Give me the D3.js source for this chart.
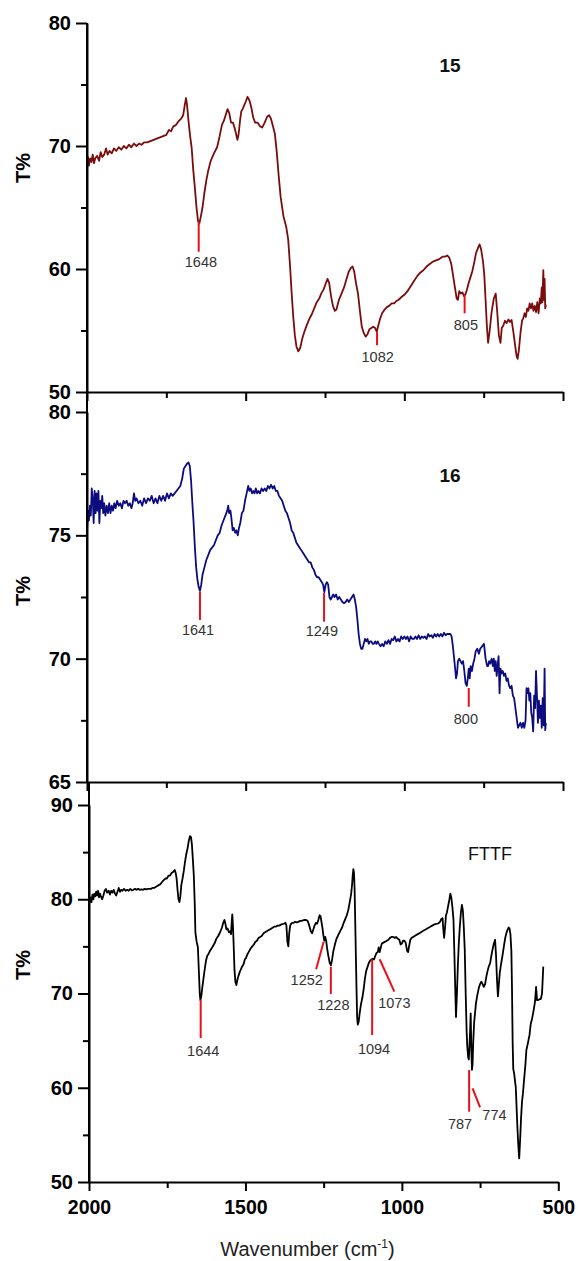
<!DOCTYPE html>
<html lang="en">
<head>
<meta charset="utf-8">
<title>FTIR spectra: 15, 16, FTTF</title>
<script src="https://d3js.org/d3.v7.min.js"></script>
<style>
  body { margin: 0; background: #fff; }
  svg text { font-family: "Liberation Sans", Arial, sans-serif; }
</style>
</head>
<body>
<script>
// ---- spectra, [wavenumber, T%] ----
var spec15 = [[2000,68.2],[1997,69.1],[1994,68.4],[1990,69.0],[1986,68.7],[1982,69.3],[1978,68.6],[1974,69.0],[1968,69.2],[1962,68.8],[1957,69.5],[1952,69.1],[1946,69.3],[1940,69.8],[1935,69.3],[1929,69.6],[1922,69.4],[1915,69.8],[1908,69.6],[1900,69.9],[1892,69.7],[1884,70.0],[1876,69.8],[1868,70.1],[1860,69.9],[1852,70.2],[1844,70.0],[1836,70.2],[1828,70.1],[1820,70.3],[1810,70.3],[1800,70.4],[1790,70.5],[1780,70.6],[1770,70.7],[1760,70.8],[1750,70.9],[1742,71.3],[1735,71.2],[1728,71.6],[1720,71.7],[1712,72.0],[1704,72.2],[1697,72.5],[1692,73.3],[1688,73.9],[1685,73.4],[1680,72.0],[1675,70.8],[1670,69.8],[1665,68.0],[1660,66.6],[1655,65.0],[1650,63.9],[1646,63.7],[1641,64.3],[1636,65.0],[1630,66.2],[1624,67.2],[1618,68.0],[1610,68.8],[1600,69.4],[1590,69.9],[1582,70.8],[1575,71.7],[1568,72.1],[1562,72.6],[1557,73.0],[1552,72.7],[1546,71.9],[1540,71.9],[1534,71.4],[1526,70.5],[1522,71.0],[1518,72.0],[1514,72.8],[1508,73.1],[1500,73.6],[1494,74.0],[1488,73.7],[1482,73.1],[1476,72.3],[1470,71.9],[1462,71.9],[1455,71.6],[1448,71.5],[1440,71.9],[1432,72.4],[1426,72.5],[1420,72.2],[1414,71.6],[1408,71.0],[1402,69.5],[1396,67.6],[1390,65.9],[1381,64.3],[1372,63.4],[1366,62.4],[1360,60.2],[1355,58.0],[1350,56.1],[1345,54.6],[1340,53.7],[1334,53.3],[1328,53.6],[1322,54.3],[1315,54.9],[1308,55.4],[1300,55.9],[1292,56.3],[1284,56.8],[1276,57.3],[1268,57.6],[1262,58.0],[1255,58.3],[1248,58.8],[1242,59.2],[1237,58.9],[1231,57.8],[1225,57.0],[1219,56.6],[1214,56.7],[1206,57.5],[1198,58.0],[1190,58.5],[1182,59.2],[1175,59.8],[1168,60.1],[1163,60.2],[1158,59.8],[1152,58.8],[1146,58.0],[1140,56.6],[1134,55.3],[1128,54.8],[1122,54.5],[1116,54.7],[1110,55.1],[1104,55.2],[1098,55.3],[1092,55.2],[1087,54.9],[1082,55.4],[1077,55.9],[1070,56.4],[1062,56.7],[1055,56.9],[1048,57.0],[1040,57.2],[1032,57.2],[1025,57.4],[1018,57.5],[1010,57.7],[1000,57.9],[990,58.2],[980,58.6],[970,59.0],[960,59.4],[950,59.7],[940,59.9],[930,60.2],[920,60.4],[910,60.6],[900,60.7],[890,60.8],[880,61.0],[872,61.0],[865,61.1],[858,60.9],[852,60.4],[846,59.4],[840,58.4],[835,57.6],[831,57.5],[827,58.2],[822,58.0],[817,58.1],[812,57.8],[808,57.9],[803,58.3],[798,58.8],[792,59.3],[786,59.8],[780,60.5],[774,61.3],[768,61.7],[763,62.0],[758,61.6],[752,60.6],[748,59.5],[744,57.5],[740,55.4],[736,54.0],[731,55.0],[725,56.5],[718,57.6],[712,58.0],[707,56.4],[702,54.6],[697,54.0],[693,55.2],[688,55.4],[683,55.8],[678,55.6],[672,55.9],[667,55.7],[662,55.85],[656,54.8],[650,53.6],[646,52.9],[643,52.7],[639,53.4],[634,54.8],[629,55.8],[625,56.0],[621,56.4],[617,56.1],[613,56.8],[609,56.6],[605,57.2],[601,56.8],[597,57.2],[593,56.6],[589,57.0],[585,56.5],[581,57.3],[577,56.4],[573,57.6],[570,57.2],[567,58.5],[565,57.3],[562,59.9],[560,57.5],[558,59.2],[556,56.8],[554,57.1]];

var spec16 = [[2000,75.2],[1997,76.0],[1994,75.6],[1991,76.2],[1988,75.8],[1985,76.9],[1982,76.5],[1979,75.5],[1976,76.8],[1973,75.9],[1970,76.7],[1967,76.0],[1964,76.8],[1961,75.5],[1958,76.4],[1955,76.1],[1952,76.6],[1949,75.9],[1946,76.3],[1942,75.8],[1938,76.2],[1934,75.9],[1930,76.3],[1926,75.9],[1922,76.2],[1918,76.0],[1914,76.3],[1910,76.1],[1905,76.4],[1900,76.2],[1895,76.3],[1890,76.1],[1885,76.4],[1880,76.3],[1875,76.4],[1870,76.2],[1865,76.3],[1860,76.1],[1856,76.3],[1852,76.7],[1848,76.4],[1844,76.5],[1838,76.3],[1832,76.4],[1826,76.2],[1820,76.5],[1814,76.3],[1808,76.5],[1802,76.4],[1796,76.6],[1790,76.3],[1784,76.5],[1778,76.3],[1772,76.6],[1766,76.4],[1760,76.6],[1754,76.4],[1748,76.7],[1742,76.5],[1736,76.7],[1730,76.6],[1724,76.7],[1718,76.8],[1712,76.9],[1706,77.0],[1700,77.3],[1695,77.7],[1690,77.8],[1685,77.9],[1680,77.95],[1676,77.8],[1672,77.2],[1668,76.3],[1664,75.5],[1660,74.5],[1656,73.7],[1652,73.2],[1648,72.9],[1644,72.75],[1640,73.0],[1636,73.4],[1630,73.7],[1624,74.0],[1618,74.2],[1612,74.4],[1606,74.5],[1600,74.6],[1594,74.8],[1588,75.0],[1582,75.1],[1576,75.4],[1570,75.6],[1564,75.8],[1558,76.0],[1555,76.2],[1552,75.9],[1548,76.0],[1545,75.7],[1541,75.2],[1537,75.3],[1533,75.1],[1529,75.2],[1525,75.0],[1521,75.3],[1517,75.5],[1512,75.9],[1507,76.0],[1502,76.4],[1497,76.7],[1492,77.0],[1488,76.8],[1484,76.9],[1480,76.7],[1476,76.8],[1472,76.7],[1468,76.9],[1464,76.7],[1460,76.8],[1455,76.7],[1450,76.9],[1445,76.8],[1440,76.9],[1435,76.8],[1430,77.0],[1425,76.9],[1420,77.05],[1415,76.9],[1410,77.0],[1405,76.8],[1400,76.8],[1395,76.6],[1390,76.5],[1385,76.4],[1380,76.2],[1375,76.0],[1370,75.9],[1365,75.7],[1360,75.5],[1355,75.2],[1350,75.1],[1345,74.9],[1340,74.7],[1335,74.6],[1330,74.5],[1325,74.4],[1320,74.3],[1315,74.2],[1310,74.1],[1305,74.0],[1300,73.9],[1295,73.9],[1290,73.7],[1285,73.6],[1280,73.4],[1275,73.3],[1270,73.3],[1265,73.2],[1260,73.1],[1256,73.0],[1252,72.7],[1248,73.0],[1244,73.1],[1240,73.0],[1236,72.5],[1232,72.4],[1228,72.5],[1224,72.6],[1220,72.5],[1215,72.6],[1210,72.4],[1205,72.5],[1200,72.4],[1195,72.3],[1190,72.25],[1185,72.3],[1180,72.4],[1175,72.3],[1170,72.4],[1165,72.5],[1160,72.6],[1156,72.4],[1152,72.1],[1148,71.6],[1144,71.0],[1140,70.6],[1136,70.4],[1132,70.4],[1128,70.6],[1124,70.8],[1120,70.7],[1116,70.8],[1112,70.6],[1108,70.7],[1104,70.7],[1100,70.6],[1096,70.6],[1092,70.7],[1088,70.6],[1084,70.7],[1080,70.6],[1075,70.5],[1070,70.6],[1065,70.5],[1060,70.7],[1055,70.6],[1050,70.75],[1045,70.6],[1040,70.8],[1035,70.75],[1030,70.9],[1025,70.7],[1020,70.8],[1015,70.7],[1010,70.9],[1005,70.8],[1000,70.9],[995,70.8],[990,70.9],[985,70.7],[980,70.9],[975,70.8],[970,70.8],[965,70.9],[960,70.8],[955,70.95],[950,70.8],[945,70.9],[940,70.85],[935,70.9],[930,70.8],[925,71.0],[920,70.9],[915,70.95],[910,70.85],[905,71.0],[900,70.9],[895,71.0],[890,70.9],[885,71.0],[880,70.9],[875,71.05],[870,70.95],[865,71.0],[860,71.0],[855,71.0],[851,70.9],[847,70.5],[843,70.0],[840,69.6],[837,69.2],[834,69.4],[831,69.9],[827,70.0],[823,69.9],[819,69.8],[815,69.9],[811,69.5],[807,69.0],[803,68.9],[800,69.2],[797,69.6],[794,69.2],[791,69.7],[787,69.5],[783,69.8],[779,70.0],[775,70.3],[770,70.4],[765,70.2],[761,70.4],[755,70.5],[749,70.6],[744,70.0],[739,69.7],[736,69.7],[733,69.9],[729,69.8],[725,70.0],[721,69.7],[718,70.0],[715,69.5],[712,69.9],[709,69.3],[706,69.7],[703,70.1],[700,68.6],[697,69.6],[694,69.4],[690,69.5],[686,69.3],[682,69.4],[678,69.1],[674,69.2],[670,68.9],[666,68.8],[662,68.9],[658,68.5],[654,68.4],[650,68.0],[646,67.6],[642,67.2],[638,67.3],[634,67.4],[630,67.2],[626,67.4],[622,67.2],[618,67.5],[615,68.8],[612,68.6],[609,68.8],[606,68.3],[603,68.6],[600,67.8],[597,67.6],[594,67.05],[591,68.5],[588,68.0],[585,69.5],[582,68.5],[579,67.4],[576,68.3],[573,67.6],[570,68.1],[567,67.2],[564,68.4],[561,67.3],[558,69.6],[556,67.1],[554,67.4]];

var specFTTF = [[1998,79.6],[1995,80.2],[1992,79.7],[1989,80.5],[1986,80.0],[1983,80.6],[1980,80.3],[1977,80.8],[1974,80.4],[1971,80.9],[1968,80.2],[1965,80.6],[1962,80.3],[1958,80.0],[1954,80.4],[1950,80.9],[1946,81.1],[1942,80.7],[1937,80.9],[1933,80.5],[1929,80.9],[1925,80.7],[1921,81.0],[1917,80.6],[1913,80.4],[1909,80.8],[1905,81.2],[1901,80.8],[1897,81.0],[1893,80.9],[1888,81.1],[1883,80.9],[1878,81.0],[1873,80.9],[1868,81.1],[1863,80.95],[1858,81.0],[1853,81.1],[1848,81.0],[1843,81.1],[1838,81.0],[1832,81.05],[1827,81.0],[1822,81.1],[1817,81.05],[1812,81.1],[1807,81.1],[1802,81.1],[1797,81.2],[1792,81.2],[1787,81.3],[1782,81.4],[1777,81.5],[1772,81.6],[1767,81.8],[1762,82.0],[1756,82.2],[1751,82.2],[1746,82.5],[1741,82.5],[1736,82.8],[1731,82.9],[1726,83.1],[1723,82.8],[1720,82.2],[1717,81.0],[1714,80.0],[1711,79.7],[1708,80.3],[1705,81.5],[1701,82.2],[1697,83.0],[1693,84.0],[1689,84.8],[1685,85.4],[1681,86.2],[1677,86.7],[1674,86.6],[1671,85.8],[1668,84.2],[1665,82.5],[1662,79.5],[1660,76.5],[1656,75.5],[1652,74.9],[1649,72.5],[1646,70.0],[1644,69.3],[1641,69.7],[1638,70.6],[1634,71.6],[1630,72.6],[1626,73.5],[1622,74.0],[1618,74.2],[1612,74.6],[1606,74.9],[1599,75.3],[1593,75.8],[1587,76.1],[1581,76.5],[1575,77.0],[1571,77.5],[1567,77.8],[1564,77.4],[1561,76.8],[1557,76.9],[1553,76.5],[1549,76.6],[1546,76.3],[1544,77.5],[1542,78.4],[1540,77.2],[1538,75.5],[1535,72.5],[1532,71.2],[1529,70.9],[1526,71.4],[1522,71.9],[1518,72.3],[1514,72.6],[1510,72.9],[1506,73.1],[1502,73.6],[1498,73.8],[1493,74.2],[1488,74.5],[1483,74.8],[1478,75.0],[1473,75.2],[1468,75.5],[1463,75.6],[1458,75.9],[1453,76.0],[1448,76.1],[1442,76.4],[1437,76.5],[1432,76.6],[1427,76.7],[1422,76.8],[1417,76.9],[1412,77.0],[1407,77.1],[1402,77.1],[1397,77.2],[1392,77.2],[1387,77.3],[1382,77.35],[1377,77.4],[1372,77.5],[1369,77.2],[1366,75.5],[1363,75.0],[1360,76.4],[1357,77.2],[1354,77.4],[1350,77.5],[1346,77.5],[1341,77.6],[1336,77.55],[1331,77.6],[1326,77.7],[1321,77.7],[1316,77.75],[1311,77.8],[1306,77.8],[1301,77.7],[1296,77.2],[1291,76.6],[1287,76.4],[1283,76.8],[1279,77.2],[1275,77.5],[1271,77.4],[1267,77.8],[1263,78.3],[1260,78.2],[1257,77.6],[1254,77.0],[1251,76.2],[1248,75.6],[1245,76.0],[1242,75.6],[1239,74.8],[1235,74.0],[1231,73.3],[1227,73.0],[1223,73.6],[1219,74.5],[1214,75.2],[1209,75.8],[1202,76.3],[1196,76.7],[1191,77.0],[1186,77.5],[1181,77.9],[1176,78.3],[1171,78.9],[1166,79.8],[1162,80.6],[1159,81.6],[1157,82.6],[1155,83.2],[1153,82.8],[1151,81.0],[1149,77.5],[1147,74.0],[1145,70.5],[1143,67.5],[1141,66.7],[1138,67.0],[1135,67.9],[1131,68.8],[1126,69.6],[1122,70.5],[1118,71.6],[1114,72.4],[1109,72.9],[1105,73.3],[1101,73.5],[1097,73.6],[1093,73.7],[1089,73.6],[1085,74.0],[1081,74.3],[1077,74.4],[1074,74.9],[1071,74.4],[1068,74.8],[1064,75.3],[1059,75.4],[1053,75.5],[1048,75.6],[1043,75.7],[1038,75.9],[1033,76.0],[1028,76.0],[1023,75.9],[1018,76.0],[1013,75.8],[1008,75.7],[1004,75.2],[1000,75.3],[996,75.6],[992,75.6],[988,75.4],[983,74.5],[980,74.4],[977,75.0],[973,75.7],[969,75.9],[964,76.0],[959,76.1],[954,76.2],[949,76.3],[944,76.4],[939,76.5],[934,76.6],[929,76.7],[924,76.8],[919,76.9],[913,77.0],[908,77.1],[903,77.2],[898,77.3],[893,77.35],[888,77.4],[883,77.45],[878,77.6],[874,77.9],[870,78.0],[868,77.0],[865,75.9],[862,77.0],[859,78.3],[856,78.6],[852,79.3],[848,80.0],[845,80.6],[842,80.2],[838,79.0],[835,77.8],[832,74.0],[829,70.0],[827,67.5],[824,70.0],[821,73.0],[818,75.3],[815,77.0],[811,78.7],[808,79.4],[805,78.8],[802,77.0],[799,74.6],[796,70.0],[793,66.0],[791,64.4],[788,63.2],[786,63.0],[784,64.5],[782,66.0],[780,67.9],[778,64.0],[776,61.9],[774,62.5],[772,64.8],[769,66.9],[766,68.0],[763,69.0],[759,69.8],[754,70.6],[750,71.0],[746,71.25],[742,71.0],[738,70.7],[734,71.0],[730,71.8],[726,72.4],[722,72.9],[718,73.2],[714,74.0],[710,74.7],[706,75.3],[702,75.7],[699,74.0],[696,71.5],[693,69.7],[690,71.0],[687,72.2],[684,72.9],[681,73.5],[677,74.3],[673,75.2],[669,76.0],[666,76.4],[663,76.7],[659,77.0],[656,76.9],[653,76.3],[650,74.5],[648,70.5],[646,65.0],[644,62.0],[641,61.5],[638,60.6],[636,60.1],[634,58.5],[631,56.0],[628,54.0],[625,52.5],[622,54.5],[619,56.8],[616,58.5],[613,59.4],[609,61.0],[605,62.5],[602,64.0],[598,64.6],[592,65.6],[588,66.8],[584,67.3],[580,68.0],[576,68.8],[574,69.3],[571,70.7],[568,69.3],[564,69.3],[560,69.4],[556,69.4],[552,70.0],[548,72.85]];

// ---- peak labels: red marker line from (x1,y1) to (x2,y2), text at (lx,ly) ----
var peaks15 = [
  {label: "1648", x1: 1648, y1: 63.85, x2: 1648, y2: 61.4, lx: 1641, ly: 60.16},
  {label: "1082", x1: 1086, y1: 54.9, x2: 1086, y2: 53.8, lx: 1084, ly: 52.44},
  {label: "805", x1: 810, y1: 57.9, x2: 810, y2: 56.4, lx: 806, ly: 55.04}
];
var peaks16 = [
  {label: "1641", x1: 1644, y1: 72.71, x2: 1644, y2: 71.57, lx: 1650, ly: 70.96},
  {label: "1249", x1: 1253, y1: 72.66, x2: 1253, y2: 71.5, lx: 1260, ly: 70.92},
  {label: "800", x1: 797, y1: 68.81, x2: 797, y2: 68.05, lx: 806, ly: 67.35}
];
var peaksFTTF = [
  {label: "1644", x1: 1643, y1: 69.31, x2: 1643, y2: 65.28, lx: 1635, ly: 63.37},
  {label: "1252", x1: 1250, y1: 75.5, x2: 1274, y2: 72.57, lx: 1304, ly: 70.9},
  {label: "1228", x1: 1227, y1: 72.84, x2: 1227, y2: 69.95, lx: 1219, ly: 68.25},
  {label: "1094", x1: 1095, y1: 73.63, x2: 1095, y2: 65.6, lx: 1089, ly: 63.58},
  {label: "1073", x1: 1071, y1: 73.63, x2: 1024, y2: 70.19, lx: 1024, ly: 68.46},
  {label: "787", x1: 785, y1: 61.88, x2: 785, y2: 57.46, lx: 814, ly: 55.6},
  {label: "774", x1: 774, y1: 59.94, x2: 750, y2: 57.93, lx: 704, ly: 56.58}
];

var xTicksMajor = [2000, 1500, 1000, 500];
var xTicksMinor = [1750, 1250, 750];

var W = 578, H = 1261;
var font = "'Liberation Sans', Arial, sans-serif";

var svg = d3.select("body").append("svg")
  .attr("width", W)
  .attr("height", H);

// the bottom frame sits a few px narrower than the two above
var panels = [
  {data: spec15, peaks: peaks15, color: "#7a0c0c", xr: [87, 563], domain: [50, 80], range: [392, 23], top: 23,
   major: [50, 60, 70, 80], minor: [55, 65, 75], title: "15", titleBold: true, titleX: 856, titleY: 76.0, labelY: 168},
  {data: spec16, peaks: peaks16, color: "#0c0c80", xr: [87, 563], domain: [65, 80], range: [782, 412], top: 392,
   major: [65, 70, 75, 80], minor: [67.5, 72.5, 77.5], title: "16", titleBold: true, titleX: 856, titleY: 77.16, labelY: 591},
  {data: specFTTF, peaks: peaksFTTF, color: "#000", xr: [89, 558.3], domain: [50, 90], range: [1182, 805], top: 782,
   major: [50, 60, 70, 80, 90], minor: [55, 65, 75, 85], title: "FTTF", titleBold: false, titleX: 718, titleY: 84.16, labelY: 965}
];

panels.forEach(function(p, i) {
  var x = d3.scaleLinear().domain([2000, 500]).range(p.xr);
  var y = d3.scaleLinear().domain(p.domain).range(p.range);
  var g = svg.append("g");
  var bottom = p.range[0];
  var left = p.xr[0];

  // spectrum
  var line = d3.line()
    .x(function(d) { return x(d[0]); })
    .y(function(d) { return y(d[1]); });

  g.append("path")
    .datum(p.data)
    .attr("d", line)
    .attr("fill", "none")
    .attr("stroke", p.color)
    .attr("stroke-width", 1.8)
    .attr("stroke-linejoin", "round");

  // peak markers
  g.selectAll(".mk")
    .data(p.peaks)
    .enter().append("line")
    .attr("class", "mk")
    .attr("x1", function(d) { return x(d.x1); })
    .attr("y1", function(d) { return y(d.y1); })
    .attr("x2", function(d) { return x(d.x2); })
    .attr("y2", function(d) { return y(d.y2); })
    .attr("stroke", "#e8101a")
    .attr("stroke-width", 2);

  g.selectAll(".pk")
    .data(p.peaks)
    .enter().append("text")
    .attr("x", function(d) { return x(d.lx); })
    .attr("y", function(d) { return y(d.ly); })
    .attr("text-anchor", "middle")
    .style("font-size", "14.5px")
    .style("fill", "#333")
    .text(function(d) { return d.label; });

  // left axis: major with labels, then minor
  var yAxis = g.append("g")
    .attr("class", "ax")
    .attr("transform", "translate(" + left + ",0)")
    .call(d3.axisLeft(y).tickValues(p.major).tickSize(11).tickSizeOuter(0).tickPadding(5).tickFormat(d3.format("d")));
  yAxis.selectAll("text")
    .style("font-family", font)
    .style("font-size", "20px")
    .style("font-weight", "bold")
    .style("fill", "#000");
  g.append("g")
    .attr("class", "ax")
    .attr("transform", "translate(" + left + ",0)")
    .call(d3.axisLeft(y).tickValues(p.minor).tickSize(6).tickSizeOuter(0).tickFormat(""))
    .select(".domain").remove();

  // axis line continues up to the panel above
  g.append("line")
    .attr("class", "ax")
    .attr("x1", left).attr("x2", left)
    .attr("y1", p.top).attr("y2", bottom)
    .attr("stroke", "#000");

  // bottom axis
  var xAxis = g.append("g")
    .attr("class", "ax")
    .attr("transform", "translate(0," + bottom + ")")
    .call(d3.axisBottom(x).tickValues(xTicksMajor).tickSize(9).tickSizeOuter(0).tickPadding(9)
      .tickFormat(i == 2 ? d3.format("d") : ""));
  xAxis.selectAll("text")
    .style("font-family", font)
    .style("font-size", "19.5px")
    .style("font-weight", "bold")
    .style("fill", "#000");
  g.append("g")
    .attr("class", "ax")
    .attr("transform", "translate(0," + bottom + ")")
    .call(d3.axisBottom(x).tickValues(xTicksMinor).tickSize(6).tickFormat(""))
    .select(".domain").remove();

  g.selectAll(".ax .domain, .ax .tick line, line.ax")
    .attr("stroke-width", 2);

  // sample name
  g.append("text")
    .attr("x", x(p.titleX))
    .attr("y", y(p.titleY))
    .attr("text-anchor", "middle")
    .style("font-size", p.titleBold ? "19px" : "18px")
    .style("font-weight", p.titleBold ? "bold" : "normal")
    .style("fill", "#111")
    .text(p.title);

  // y label
  g.append("text")
    .attr("transform", "translate(30," + p.labelY + ") rotate(-90)")
    .attr("text-anchor", "middle")
    .style("font-size", "20px")
    .style("font-weight", "bold")
    .text("T%");
});

// x axis title
var xt = svg.append("text")
  .attr("x", 307.5)
  .attr("y", 1256)
  .attr("text-anchor", "middle")
  .style("font-size", "20px")
  .style("fill", "#222");
xt.append("tspan").text("Wavenumber (cm");
xt.append("tspan").attr("dy", -8).style("font-size", "12px").text("-1");
xt.append("tspan").attr("dy", 8).text(")");
</script>
</body>
</html>
